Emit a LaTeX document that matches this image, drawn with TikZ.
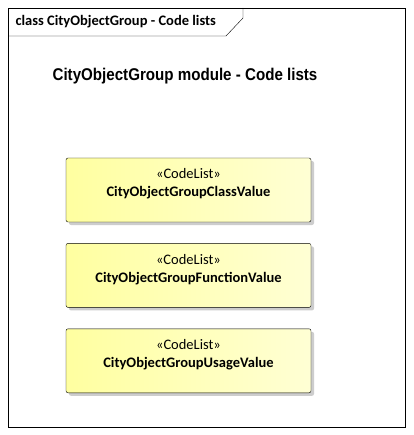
\documentclass[tikz,border=0pt]{standalone}
\usepackage{fontspec}
\setmainfont{Carlito}
\newfontfamily\headfont[FakeStretch=0.89]{Liberation Sans}
\usetikzlibrary{positioning,shadows}

\definecolor{codeleft}{RGB}{255,255,160}
\definecolor{coderight}{RGB}{255,255,212}
\definecolor{shadowgray}{RGB}{205,205,205}

\begin{document}
\begin{tikzpicture}[x = 1pt, y = -1pt,
  codelist/.style = {draw, rounded corners = 2pt, minimum width = 245pt,
    minimum height = 64pt, left color = codeleft, right color = coderight,
    drop shadow = {shadow xshift = 3pt, shadow yshift = -3pt, fill = shadowgray, opacity = 1}},
  codetext/.style = {align = center, yshift = 6pt, font = \fontsize{14.5}{18}\selectfont},
  framelabel/.style = {anchor = west, font = \fontsize{14.5}{17}\selectfont\bfseries}]
\useasboundingbox (0,0) rectangle (413,435);
\draw[fill = white] (8,8) rectangle (405,427);
% frame tab
\draw (8,36) -- (226,36) -- (243,18) -- (243,8);
\node[framelabel] (tab) at (12,22) {class CityObjectGroup - Code lists};
\node[font = \headfont\fontsize{17}{20}\selectfont\bfseries] (title) at (185,76)
  {CityObjectGroup module - Code lists};

\node[codelist, label = {[codetext]center:«CodeList»\\\textbf{CityObjectGroupClassValue}}]
  (cls) at (188.5,190) {};
\node[codelist, below = 21pt of cls, label = {[codetext]center:«CodeList»\\\textbf{CityObjectGroupFunctionValue}}]
  (fun) {};
\node[codelist, below = 21pt of fun, label = {[codetext]center:«CodeList»\\\textbf{CityObjectGroupUsageValue}}]
  (use) {};
\end{tikzpicture}
\end{document}
